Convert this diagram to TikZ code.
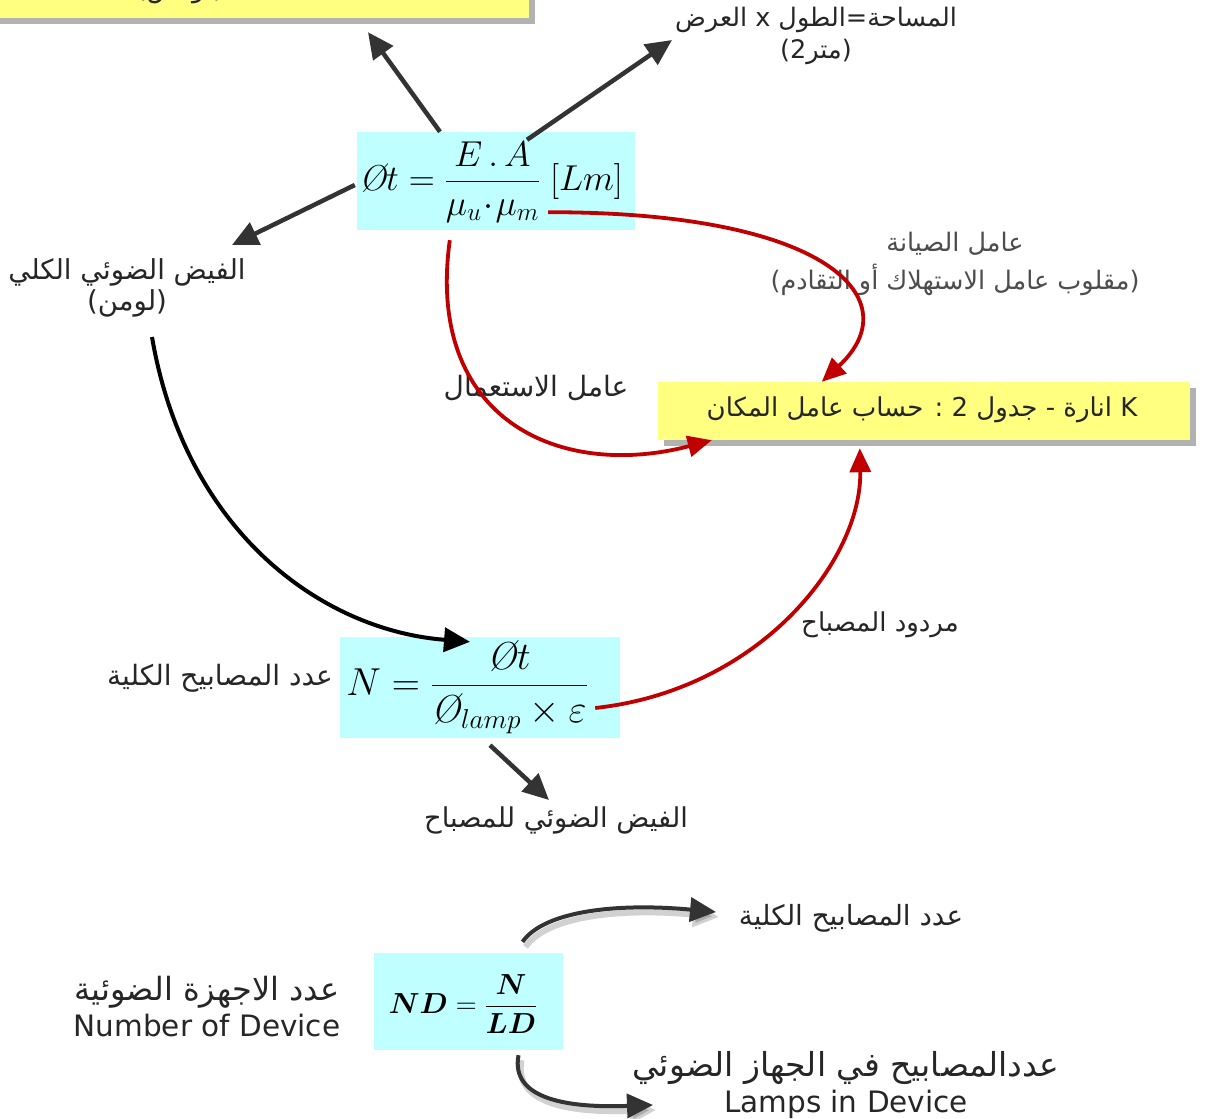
\RequirePackage{fix-cm}
\documentclass[tikz,border=0pt]{standalone}
\usepackage{amsmath}
\usepackage{fontspec}
\newfontfamily\arfont[Script=Arabic]{DejaVu Sans}
\newfontfamily\lafont{DejaVu Sans}
\TeXXeTstate=1
\usetikzlibrary{arrows.meta,calc,shadows}
\definecolor{cyanbox}{HTML}{BFFFFF}
\definecolor{yelbox}{HTML}{FFFF80}
\definecolor{arrgray}{HTML}{333333}
\definecolor{arrred}{HTML}{C00000}
\definecolor{txt}{HTML}{262626}
\definecolor{txtgray}{HTML}{4D4D4D}
\newcommand{\AR}[1]{{\arfont\beginR #1\endR}}
\newcommand{\Ot}{\text{\itshape\O}}
\newcommand{\fs}[2]{\fontsize{#1}{#2}\selectfont}
\tikzset{
  lbl/.style={inner sep=0pt, text=txt, align=center, font=\fs{27}{32}},
  biglbl/.style={inner sep=0pt, text=txt, align=center, font=\fs{32}{36}},
  formbox/.style={fill=cyanbox, inner sep=0pt},
  yelbox/.style={fill=yelbox, inner sep=0pt, drop shadow={shadow xshift=6pt, shadow yshift=-6pt, fill=black, opacity=0.3}},
  garrow/.style={draw=arrgray, line width=4.5pt, -{Triangle[length=26pt,width=24pt]}},
  rarrow/.style={draw=arrred, line width=3.8pt, -{Triangle[length=24pt,width=21pt]}},
  barrow/.style={draw=black, line width=4pt, -{Triangle[length=26pt,width=24pt]}},
  sarrow/.style={draw=arrgray, line width=4pt, -{Triangle[length=26pt,width=24pt]},
    preaction={draw=black, opacity=0.18, line width=6pt, transform canvas={xshift=3pt,yshift=-5pt}}},
}
\begin{document}
\begin{tikzpicture}[x=1pt,y=-1pt]
\useasboundingbox (0,0) rectangle (1205,1119);
\fill[white] (0,0) rectangle (1205,1119);

% top-left yellow box (cut off at the top edge)
\node[yelbox, minimum width=540, minimum height=70] (tlbox) at (259,-17) {};
\node[lbl, anchor=base, font=\fs{26}{30}] (tltext) at (180,-3) {\AR{(لوكس)}};

% formula 1
\node[formbox, minimum width=278, minimum height=98] (f1) at (496,181) {};
\node[inner sep=0pt, font=\fs{36}{40}] (f1t) at (491,182)
  {$\Ot t=\dfrac{E\,.\,A}{\mu_u\!\cdot\!\mu_m}\;[Lm]$};

% labels around formula 1
\node[lbl, font=\fs{25.5}{32}] (area) at (816,36) {\AR{المساحة=الطول x العرض}\\\AR{(متر2)}};
\node[lbl, font=\fs{27.5}{31}] (flux) at (127,288) {\AR{الفيض الضوئي الكلي}\\\AR{(لومن)}};
\node[lbl, text=txtgray, font=\fs{25.5}{38}] (maint) at (955,264) {\AR{عامل الصيانة}\\\AR{(مقلوب عامل الاستهلاك أو التقادم)}};
\node[lbl, font=\fs{28}{32}] (util) at (536,388) {\AR{عامل الاستعمال}};

% K box
\node[yelbox, minimum width=532, minimum height=58] (kbox) at (924,411) {};
\node[lbl, font=\fs{26}{30}] (ktext) at (922,410) {\AR{K انارة - جدول 2 : حساب عامل المكان}};

% formula 2
\node[formbox, minimum width=280, minimum height=101] (f2) at (480,687.5) {};
\node[inner sep=0pt, font=\fs{39}{44}] (f2t) at (467,687)
  {$N=\dfrac{\Ot t}{\Ot_{lamp}\times\varepsilon}$};
\node[lbl, font=\fs{28}{32}] (lampN) at (220,678) {\AR{عدد المصابيح الكلية}};
\node[lbl, font=\fs{27.3}{32}] (lamp) at (556,820) {\AR{الفيض الضوئي للمصباح}};
\node[lbl, font=\fs{26}{32}] (eff) at (880,625) {\AR{مردود المصباح}};

% formula 3
\node[formbox, minimum width=189, minimum height=97] (f3) at (468.5,1001.5) {};
\node[inner sep=0pt, font=\fs{29}{34}] (f3t) at (463,1004)
  {$\boldsymbol{ND}=\dfrac{\boldsymbol{N}}{\boldsymbol{LD}}$};
\node[biglbl] (ndlab) at (207,1007) {\AR{عدد الاجهزة الضوئية}\\{\lafont\fs{29.5}{36}Number of Device}};
\node[lbl, font=\fs{27.8}{32}] (tot) at (851,918) {\AR{عدد المصابيح الكلية}};
\node[biglbl, font=\fs{33}{36}] (ld) at (846,1085) {\AR{عددالمصابيح في الجهاز الضوئي}\\{\lafont\fs{29.5}{36}Lamps in Device}};

% coordinates for arrow tips near labels
\coordinate (areaTip) at (672,40);
\coordinate (fluxTip) at (232,245);

% gray arrows
\draw[garrow] ($(f1.north)+(-56,0)$) -- ($(tlbox.south)+(109,14)$);
\draw[garrow] ($(f1.north)+(31,8)$) -- (areaTip);
\draw[garrow] ($(f1.west)+(-2,4)$) -- (fluxTip);
\draw[garrow] ($(f2.south)+(10,7)$) -- ($(lamp.center)+(-7,-20)$);

% red arrows
\draw[rarrow] ($(f1.south east)+(-87,-18)$) .. controls (830,212) and (910,300) .. ($(kbox.north west)+(164,0)$);
\draw[rarrow] ($(f1.south west)+(93,10)$) .. controls (425,420) and (560,480) .. ($(kbox.south west)+(54,0)$);
\draw[rarrow] ($(f2.east)+(-25,20.5)$) .. controls (760,690) and (862,560) .. ($(kbox.south west)+(202,8)$);

% black arrow
\draw[barrow] ($(flux.center)+(25,49)$) .. controls (185,530) and (320,630) .. ($(f2.north)+(-10,5)$);

% bottom arrows with shadow
\draw[sarrow] ($(f3.north)+(54,-11)$) .. controls (545,910) and (620,903) .. ($(tot.center)+(-135,-6)$);
\draw[sarrow] ($(f3.south)+(50,5)$) .. controls (510,1100) and (570,1108) .. ($(ld.center)+(-193,20)$);
\end{tikzpicture}
\end{document}
